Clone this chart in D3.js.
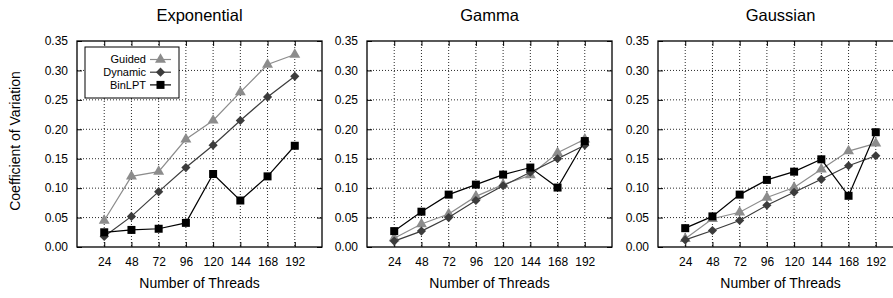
<!DOCTYPE html>
<html>
<head>
<meta charset="utf-8">
<script src="https://cdn.jsdelivr.net/npm/d3@7"></script>
<style>
body { margin: 0; background: #fff; }
svg text { font-family: "Liberation Sans", Arial, sans-serif; fill: #000; }
</style>
</head>
<body>
<div id="chart"></div>
<script>
const WIDTH = 893;
const HEIGHT = 298;

// data
const threads = [24, 48, 72, 96, 120, 144, 168, 192];
const yTicks = [0, 0.05, 0.10, 0.15, 0.20, 0.25, 0.30, 0.35];
const panelTitles = ['Exponential', 'Gamma', 'Gaussian'];
const seriesNames = ['Guided', 'Dynamic', 'BinLPT'];

const expGuided  = [0.045, 0.120, 0.128, 0.183, 0.215, 0.263, 0.310, 0.327];
const expDynamic = [0.018, 0.052, 0.094, 0.135, 0.173, 0.215, 0.255, 0.290];
const expBinLPT  = [0.025, 0.029, 0.031, 0.041, 0.124, 0.079, 0.120, 0.172];

const gamGuided  = [0.015, 0.039, 0.056, 0.086, 0.106, 0.122, 0.160, 0.183];
const gamDynamic = [0.010, 0.027, 0.050, 0.079, 0.104, 0.127, 0.150, 0.173];
const gamBinLPT  = [0.027, 0.060, 0.089, 0.106, 0.123, 0.135, 0.101, 0.180];

const gauGuided  = [0.014, 0.048, 0.059, 0.084, 0.101, 0.132, 0.163, 0.176];
const gauDynamic = [0.012, 0.028, 0.045, 0.071, 0.093, 0.115, 0.138, 0.155];
const gauBinLPT  = [0.032, 0.052, 0.089, 0.114, 0.128, 0.149, 0.087, 0.195];

const panels = [
  [expGuided, expDynamic, expBinLPT],
  [gamGuided, gamDynamic, gamBinLPT],
  [gauGuided, gauDynamic, gauBinLPT]
];

const colors = ['#8c8c8c', '#3c3c3c', '#000'];
const symbols = [d3.symbolTriangle, d3.symbolSquare, d3.symbolSquare];
const symSizes = [52, 42, 64];
const symRot = [0, 45, 0];

const panelLeft = [77, 367, 658];
const pw = 245;
const plotTop = 41, plotBottom = 247;

const svg = d3.select('#chart')
  .append('svg')
    .attr('width', WIDTH)
    .attr('height', HEIGHT);

const y = d3.scaleLinear().domain([0, 0.35]).range([plotBottom, plotTop]);

const marker = (g, i, px, py) => g.append('path')
  .attr('d', d3.symbol().type(symbols[i]).size(symSizes[i])())
  .attr('transform', `translate(${px},${py}) rotate(${symRot[i]})`)
  .attr('fill', colors[i]);

panels.forEach((series, p) => {
  const x0 = panelLeft[p];
  const x = d3.scaleLinear().domain([0, 216]).range([x0, x0 + pw]);
  const g = svg.append('g');

  // grid
  g.selectAll('.vgrid').data(threads).enter()
    .append('line')
      .attr('x1', d => x(d)).attr('x2', d => x(d))
      .attr('y1', plotTop).attr('y2', plotBottom)
      .attr('stroke', '#111').attr('stroke-width', 0.9)
      .attr('stroke-dasharray', '1,2');
  g.selectAll('.hgrid').data(yTicks.slice(1, -1)).enter()
    .append('line')
      .attr('x1', x0).attr('x2', x0 + pw)
      .attr('y1', d => y(d)).attr('y2', d => y(d))
      .attr('stroke', '#111').attr('stroke-width', 0.9)
      .attr('stroke-dasharray', '1,2');

  // axes (inward ticks on all four sides)
  const left = g.append('g').attr('transform', `translate(${x0},0)`)
    .call(d3.axisLeft(y).tickValues(yTicks).tickFormat(d3.format('.2f')).tickSize(-5).tickPadding(9));
  const right = g.append('g').attr('transform', `translate(${x0 + pw},0)`)
    .call(d3.axisRight(y).tickValues(yTicks).tickFormat('').tickSize(-5));
  const bot = g.append('g').attr('transform', `translate(0,${plotBottom})`)
    .call(d3.axisBottom(x).tickValues(threads).tickSize(-5).tickPadding(10));
  const tp = g.append('g').attr('transform', `translate(0,${plotTop})`)
    .call(d3.axisTop(x).tickValues(threads).tickFormat('').tickSize(-5));
  [left, right, bot, tp].forEach(a => {
    a.select('.domain').remove();
    a.selectAll('line').attr('stroke', '#000').attr('stroke-width', 1);
    a.selectAll('text').style('font-size', '12px').attr('fill', '#000');
  });

  g.append('rect')
    .attr('x', x0).attr('y', plotTop)
    .attr('width', pw).attr('height', plotBottom - plotTop)
    .attr('fill', 'none').attr('stroke', '#000').attr('stroke-width', 1.3);

  // legend (first panel only)
  if (p === 0) {
    const lg = g.append('g');
    lg.append('rect')
      .attr('x', 85).attr('y', 47).attr('width', 94).attr('height', 51)
      .attr('fill', '#fff').attr('stroke', '#000').attr('stroke-width', 1);
    seriesNames.forEach((name, i) => {
      const ly = 59.5 + i * 12.7;
      lg.append('text')
        .attr('x', 146).attr('y', ly).attr('dy', '0.35em')
        .attr('text-anchor', 'end').style('font-size', '11px')
        .text(name);
      lg.append('line')
        .attr('x1', 150).attr('x2', 171).attr('y1', ly).attr('y2', ly)
        .attr('stroke', colors[i]).attr('stroke-width', 1.2);
      marker(lg, i, 160.5, ly);
    });
  }

  // series lines and markers
  series.forEach((vals, i) => {
    const pts = threads.map((t, k) => [t, vals[k]]);
    g.append('path')
      .datum(pts)
      .attr('fill', 'none')
      .attr('stroke', colors[i])
      .attr('stroke-width', 1.2)
      .attr('d', d3.line().x(d => x(d[0])).y(d => y(d[1])));
    pts.forEach(d => marker(g, i, x(d[0]), y(d[1])));
  });

  // titles
  g.append('text')
    .attr('x', x0 + pw / 2).attr('y', 15).attr('dy', '0.35em')
    .attr('text-anchor', 'middle').style('font-size', '16.5px')
    .text(panelTitles[p]);
  g.append('text')
    .attr('x', x0 + pw / 2).attr('y', 283).attr('dy', '0.35em')
    .attr('text-anchor', 'middle').style('font-size', '14px')
    .text('Number of Threads');
});

svg.append('text')
  .attr('transform', 'translate(15,141) rotate(-90)')
  .attr('dy', '0.35em')
  .attr('text-anchor', 'middle').style('font-size', '14px')
  .text('Coefficient of Variation');
</script>
</body>
</html>
